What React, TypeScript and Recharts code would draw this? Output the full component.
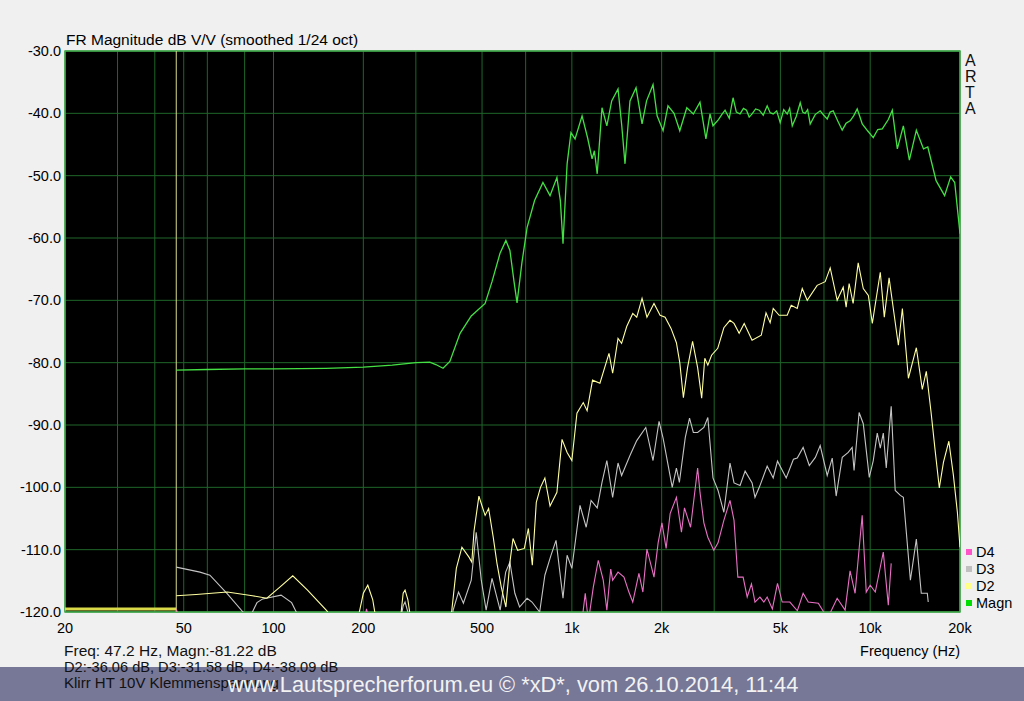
import React from 'react';
import {
  LineChart, Line, XAxis, YAxis, CartesianGrid, ReferenceLine, ReferenceArea,
} from 'recharts';

const FONT = '"Liberation Sans", Arial, Helvetica, sans-serif';

// ---- axes ----
const xTicks = [20, 50, 100, 200, 500, 1000, 2000, 5000, 10000, 20000];
const xTickLabels = ['20', '50', '100', '200', '500', '1k', '2k', '5k', '10k', '20k'];
const yTicks = [-120, -110, -100, -90, -80, -70, -60, -50, -40, -30];
const gridFreqs = [
  20, 30, 40, 50, 60, 70, 80, 90, 100, 200, 300, 400, 500, 600, 700, 800, 900,
  1000, 2000, 3000, 4000, 5000, 6000, 7000, 8000, 9000, 10000, 20000,
];
const cursorFreq = 47.2;

// ---- series: [frequency Hz, dB] ----
const magnPts: [number, number][] = [
  [47.2, -81.2], [60, -81.1], [80, -81.0], [100, -81.0], [150, -80.9], [200, -80.7],
  [250, -80.4], [300, -80.0], [334, -79.9], [350, -80.3], [370, -80.9], [390, -79.8],
  [422, -75.3], [460, -72.5], [512, -70.5], [540, -67], [574, -62.5], [601, -60.4],
  [620, -62], [640, -67], [655, -70.4], [680, -64], [708, -58.3], [750, -54],
  [800, -51.1], [845, -53.2], [891, -50.3], [915, -54], [934, -60.9], [964, -48.1],
  [993, -43.1], [1025, -44.1], [1082, -40.4], [1130, -44], [1169, -47.3], [1190, -46],
  [1216, -49.7], [1262, -39.1], [1310, -42.0], [1360, -38], [1428, -36.1], [1470, -42],
  [1507, -48.1], [1566, -38.0], [1641, -35.9], [1719, -41.7], [1780, -38], [1871, -35.4],
  [1931, -40.4], [2022, -42.8], [2100, -38.8], [2200, -40], [2300, -42.8], [2428, -39.1],
  [2554, -40.1], [2688, -38.2], [2814, -44.1], [2905, -40.1], [2972, -42.0], [3100, -41],
  [3180, -40.2], [3262, -39.5], [3370, -40.8], [3470, -37.5], [3560, -39.8], [3663, -40.1],
  [3760, -39.2], [3850, -39.5], [3930, -40.6], [4019, -40.1], [4130, -39.3], [4250, -39.5],
  [4380, -40.3], [4515, -38.8], [4620, -39.9], [4731, -40.1], [4860, -39.6], [4993, -41.5],
  [5130, -39.4], [5270, -40.1], [5370, -39.2], [5480, -42.0], [5650, -40.5], [5827, -38.3],
  [5940, -39.8], [6050, -40], [6170, -39.4], [6294, -41.7], [6540, -40.2], [6798, -39.6],
  [6990, -40.3], [7177, -40.9], [7340, -39.8], [7516, -39.6], [7780, -41.2], [8057, -42.7],
  [8300, -41.6], [8567, -41.2], [8800, -40.4], [9046, -39.3], [9230, -40.5], [9405, -41.7],
  [9800, -42.8], [10240, -43.9], [10600, -42.6], [10978, -42.5], [11500, -41],
  [11860, -39.5], [12330, -45.7], [12917, -42.0], [13530, -47.5], [14280, -42.7],
  [15090, -45.7], [15600, -45.4], [16630, -50.8], [17760, -53.2], [18610, -50.2],
  [19200, -51.1], [20000, -59.3],
];

const d2PrePts: [number, number][] = [[20, -119.5], [47.2, -119.5]];

const d2Pts: [number, number][] = [
  [47.2, -117.4], [55, -117.2], [70, -116.8], [85, -117.4], [95, -117.8], [105, -116],
  [116, -114.2], [130, -116.5], [151, -119.8], [160, -122], [190, -122], [200, -117],
  [207, -115.7], [215, -118], [222, -122], [265, -122], [272, -117], [276, -116.5],
  [282, -118], [290, -122], [390, -122], [396, -119.7], [410, -113], [428, -109.6],
  [452, -111.2], [462, -112], [470, -107], [488, -101.4], [500, -103], [512, -104.5],
  [526, -103.4], [545, -108], [561, -112.2], [580, -116], [601, -119.2], [620, -112],
  [635, -108.2], [658, -110.1], [693, -109.8], [715, -106.6], [737, -112.5], [760, -102.4],
  [785, -100], [812, -98.5], [845, -103.0], [891, -100.8], [927, -92.3], [964, -94.4],
  [1000, -95.7], [1040, -88.1], [1092, -86.4], [1125, -87.7], [1173, -82.8], [1242, -83.3],
  [1332, -78.5], [1370, -81.7], [1428, -76.1], [1468, -76.9], [1527, -74.2], [1600, -72.1],
  [1650, -72.7], [1719, -69.7], [1785, -72.7], [1885, -70.5], [1976, -72.4], [2054, -72.7],
  [2150, -74.5], [2241, -76.8], [2300, -80], [2365, -85.6], [2442, -80.8], [2539, -76.6],
  [2640, -80.8], [2724, -85.7], [2790, -79.3], [2856, -80.4], [2940, -78.8], [3083, -77.7],
  [3232, -74.4], [3389, -73.2], [3496, -73.7], [3637, -75.3], [3782, -73.7], [4019, -76.4],
  [4314, -75.6], [4475, -72.0], [4620, -73.6], [4731, -71.3], [4953, -72.4], [5270, -72.4],
  [5436, -70.8], [5695, -71.3], [5919, -68.1], [6151, -70.0], [6640, -67.6], [7065, -67.0],
  [7345, -64.8], [7750, -70.0], [8120, -67.9], [8306, -71.1], [8500, -67.3], [8765, -70.5],
  [9115, -64.0], [9480, -68.1], [9860, -69.2], [10165, -73.7], [10810, -65.5], [11150, -72.7],
  [11570, -66.4], [12430, -77.2], [12820, -71.3], [13430, -82.5], [14280, -77.6],
  [14950, -84.3], [15420, -81.4], [16000, -88], [16500, -94], [17050, -100.1], [17600, -96],
  [18350, -92.6], [19000, -98], [19600, -104], [20000, -109.6],
];

const d3Pts: [number, number][] = [
  [47.2, -112.8], [56.7, -113.6], [61.2, -114.1], [69.8, -117], [79, -120], [83, -121],
  [88, -118.5], [92, -117.9], [106, -117.3], [115, -118.5], [125, -122], [265, -122],
  [272, -119], [276, -118.4], [282, -120], [290, -122], [395, -122], [400, -119.7],
  [417, -116.8], [433, -118.6], [460, -114.9], [478, -107.2], [497, -114.9], [516, -119.7],
  [540, -114.6], [575, -119.7], [600, -113.6], [620, -112], [644, -117], [668, -119.2],
  [708, -117.8], [735, -118.4], [780, -120], [812, -114.1], [850, -111], [885, -108.5],
  [934, -117.8], [964, -110.9], [1000, -113.0], [1065, -102.9], [1117, -106.4],
  [1160, -102.1], [1216, -103.3], [1262, -99.2], [1310, -95.7], [1370, -101.6],
  [1428, -96.1], [1468, -98.1], [1566, -94.9], [1650, -92.5], [1769, -90.4], [1871, -95.7],
  [1960, -89.4], [2022, -92.1], [2170, -100.0], [2241, -96.9], [2293, -99.2], [2400, -92],
  [2480, -88.9], [2554, -91.2], [2640, -91.2], [2770, -90.4], [2856, -88.8], [2972, -98.5],
  [3090, -100.5], [3232, -104.0], [3389, -96.1], [3496, -99.3], [3663, -99.7], [3809, -97.4],
  [4019, -99.3], [4110, -101.6], [4265, -99.8], [4515, -96.6], [4731, -98.5], [4890, -95.8],
  [5230, -98.5], [5530, -95.5], [5695, -95.3], [5960, -93.6], [6250, -96.5], [6550, -95.2],
  [6798, -93.3], [7177, -98.1], [7460, -95.3], [7690, -101.4], [8060, -95.2], [8440, -94.4],
  [8700, -93.6], [8830, -97.3], [9180, -88.0], [9480, -89.8], [9930, -98.4], [10240, -95.7],
  [10560, -91.3], [10810, -93.7], [11065, -91.3], [11320, -96.9], [11760, -87.0],
  [12130, -100.5], [12620, -101.3], [12917, -101.6], [13640, -114.9], [14280, -108.3],
  [14830, -117.0], [15540, -117.0], [15650, -118.4],
];

const d4Pts: [number, number][] = [
  [47.2, -119.5], [49, -122], [200, -122], [205, -119.5], [210, -122], [1080, -122],
  [1092, -119.7], [1109, -117], [1125, -119.7], [1140, -121], [1180, -116], [1226, -111.7],
  [1274, -114.9], [1310, -119.7], [1350, -113.1], [1370, -114.9], [1428, -113.6],
  [1495, -114.4], [1553, -116.8], [1600, -118.4], [1678, -113.8], [1730, -116.8],
  [1785, -109.9], [1885, -114.4], [1946, -108.9], [2004, -105.7], [2070, -109.8],
  [2135, -104.2], [2241, -101.6], [2330, -107.2], [2385, -103.3], [2500, -106.4],
  [2640, -96.9], [2690, -100.9], [2770, -105.7], [2856, -108.0], [2990, -110.1],
  [3090, -108.9], [3232, -105.3], [3389, -102.1], [3496, -105.3], [3600, -114.4],
  [3750, -114.4], [3870, -117.6], [4000, -115.5], [4110, -118.4], [4270, -117.6],
  [4400, -118.4], [4515, -117.6], [4700, -119.5], [4890, -115.4], [5070, -118.4],
  [5380, -118.4], [5700, -119.8], [5960, -117.0], [6200, -118.4], [6700, -118.6],
  [7200, -121], [7750, -117.8], [8240, -119.7], [8560, -113.4], [8900, -117.0],
  [9400, -104.5], [9700, -116.8], [10000, -115.7], [10400, -116.8], [11065, -110.4],
  [11500, -118.9], [11760, -112.2],
];

const legendNames = ['D4', 'D3', 'D2', 'Magn'];
const legendColors = ['#ff55c8', '#c0c0c0', '#ffff88', '#00dd00'];

const infoLines = [
  'Freq: 47.2 Hz, Magn:-81.22 dB',
  'D2:-36.06 dB, D3:-31.58 dB, D4:-38.09 dB',
  'Klirr HT 10V Klemmenspannung',
];
const titleText = 'FR Magnitude dB V/V (smoothed 1/24 oct)';
const watermark = 'www.Lautsprecherforum.eu \u00a9 *xD*, vom 26.10.2014, 11:44';

const toRows = (pts: [number, number][]) => pts.map(([f, v]) => ({ f, v }));

const magn = toRows(magnPts);
const d2Pre = toRows(d2PrePts);
const d2 = toRows(d2Pts);
const d3 = toRows(d3Pts);
const d4 = toRows(d4Pts);

export default function App() {
  return (
    <div
      style={{
        position: 'absolute', left: 0, top: 0, width: 1024, height: 701,
        background: '#f0f0f0', overflow: 'hidden', fontFamily: FONT,
      }}
    >
      <LineChart width={1024} height={701} margin={{ top: 51, right: 64, bottom: 0, left: 0 }}>
        <CartesianGrid
          xAxisId="grid"
          fill="#000000"
          fillOpacity={1}
          stroke="#1e6629"
          strokeWidth={1}
        />
        <XAxis
          xAxisId="grid"
          dataKey="f"
          type="number"
          scale="log"
          domain={[20, 20000]}
          ticks={gridFreqs}
          allowDataOverflow
          hide
        />
        <XAxis
          dataKey="f"
          type="number"
          scale="log"
          domain={[20, 20000]}
          ticks={xTicks}
          interval={0}
          allowDataOverflow
          height={89}
          axisLine={false}
          tickLine={false}
          tickSize={0}
          tickMargin={11}
          tickFormatter={(v: number) => xTickLabels[xTicks.indexOf(v)] ?? String(v)}
          tick={{ fill: '#000', fontSize: 14.5, fontFamily: FONT }}
        />
        <YAxis
          type="number"
          domain={[-120, -30]}
          ticks={yTicks}
          interval={0}
          allowDataOverflow
          width={65}
          axisLine={false}
          tickLine={false}
          tickSize={0}
          tickMargin={4}
          tickFormatter={(v: number) => v.toFixed(1)}
          tick={{ fill: '#000', fontSize: 14.5, fontFamily: FONT }}
        />
        <ReferenceLine x={cursorFreq} stroke="#d8d88c" strokeWidth={1} />
        <Line data={d4} dataKey="v" stroke="#e870c4" strokeWidth={1.1} dot={false} isAnimationActive={false} type="linear" />
        <Line data={d3} dataKey="v" stroke="#c4c4c4" strokeWidth={1.1} dot={false} isAnimationActive={false} type="linear" />
        <Line data={d2} dataKey="v" stroke="#ffffa0" strokeWidth={1.1} dot={false} isAnimationActive={false} type="linear" />
        <Line data={d2Pre} dataKey="v" stroke="#dada48" strokeWidth={3} dot={false} isAnimationActive={false} type="linear" />
        <Line data={magn} dataKey="v" stroke="#44e044" strokeWidth={1.3} dot={false} isAnimationActive={false} type="linear" />
        <ReferenceArea
          x1={20} x2={20000} y1={-120} y2={-30}
          fill="none" fillOpacity={0} stroke="#46b04e" strokeWidth={1.5}
        />
      </LineChart>

      <svg
        width={1024}
        height={701}
        style={{ position: 'absolute', left: 0, top: 0, pointerEvents: 'none' }}
        fontFamily={FONT}
      >
        <text x={66} y={45} fontSize={15.5} fill="#000">{titleText}</text>
        {['A', 'R', 'T', 'A'].map((c, i) => (
          <text key={i} x={965} y={66 + i * 16} fontSize={16} fill="#111">{c}</text>
        ))}
        {legendNames.map((n, i) => (
          <g key={n}>
            <rect x={966} y={549 + i * 17} width={6} height={6} fill={legendColors[i]} />
            <text x={976} y={557 + i * 17} fontSize={14.5} fill="#000">{n}</text>
          </g>
        ))}
        <text x={960} y={656} fontSize={14.5} fill="#000" textAnchor="end">Frequency (Hz)</text>
        <rect x={0} y={667} width={1024} height={34} fill="#777797" />
        <text x={64} y={656} fontSize={15.5} fill="#111">{infoLines[0]}</text>
        <text x={64} y={672} fontSize={14.6} fill="#111">{infoLines[1]}</text>
        <text x={64} y={688} fontSize={15} fill="#111">{infoLines[2]}</text>
        <text x={513} y={692} fontSize={21.8} fill="#f2f2f2" textAnchor="middle">{watermark}</text>
      </svg>
    </div>
  );
}
